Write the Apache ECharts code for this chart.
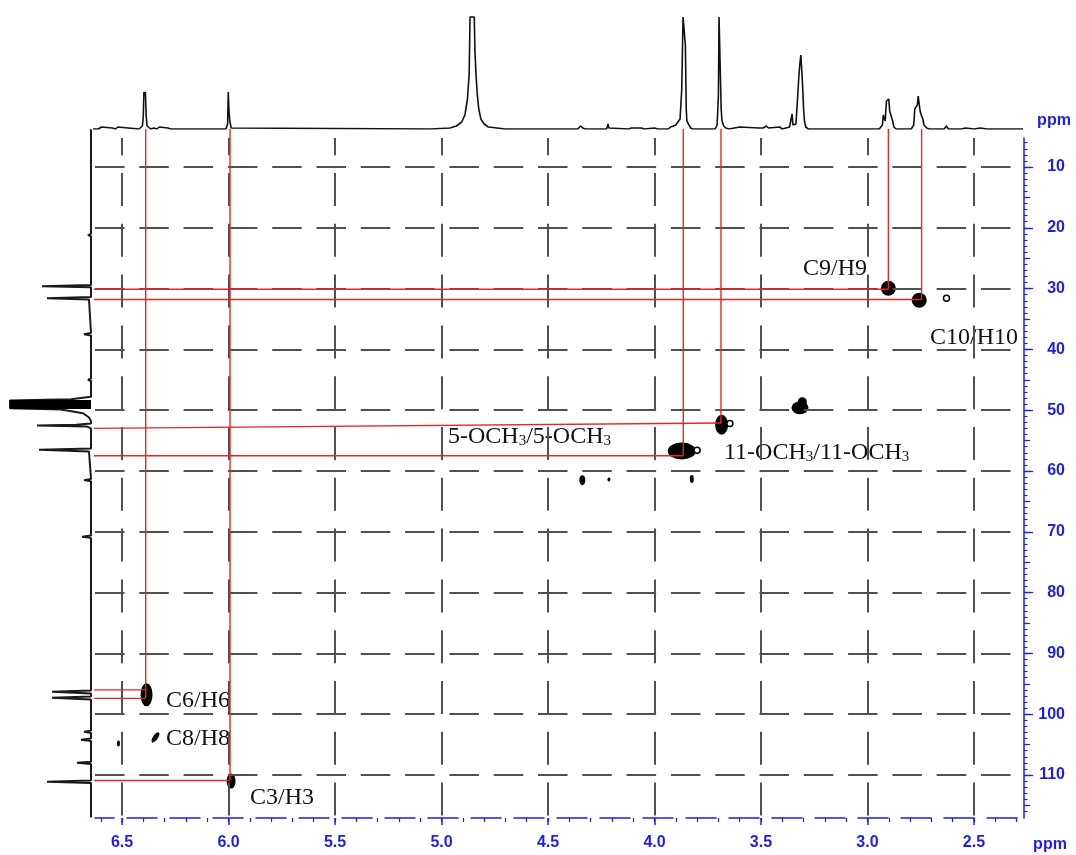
<!DOCTYPE html>
<html><head><meta charset="utf-8">
<script src="https://cdn.jsdelivr.net/npm/echarts@6/dist/echarts.min.js"></script>
<style>html,body{margin:0;padding:0;background:#fff}#c{width:1076px;height:855px}</style>
</head><body><div id="c"></div>
<script>
// ---------- tick labels ----------
const hTicks = [6.5, 6.0, 5.5, 5.0, 4.5, 4.0, 3.5, 3.0, 2.5];
const cTicks = [10, 20, 30, 40, 50, 60, 70, 80, 90, 100, 110];
const hMinorTicks = [];
for (let k = 66; k >= 23; k--) hMinorTicks.push(k / 10);
const cMidTicks = [];
for (let k = 5; k <= 115; k += 5) cMidTicks.push(k);
const cMinorTicks = [];
for (let k = 6; k <= 116; k++) cMinorTicks.push(k);

// ---------- 1H projection (ppm, intensity) ----------
const protonTrace = [
[6.636,0],[6.610,0],[6.597,2],[6.590,0],[6.545,1],[6.540,2],[6.530,0],[6.520,2],[6.514,0],[6.420,0],[6.404,3],[6.400,12],[6.397,37],[6.393,34],[6.390,37],[6.386,12],[6.382,3],[6.375,1],[6.365,0],[6.356,2],[6.350,1],[6.343,2],[6.336,0],[6.325,2],[6.318,0],[6.285,1],[6.270,0],
[6.012,0],[6.004,5],[6.001,37],[5.998,20],[5.994,8],[5.987,1],[5.978,0],
[5.050,0],[4.960,1],[4.930,3],[4.905,7],[4.890,14],[4.878,30],[4.870,55],[4.866,112],[4.846,112],[4.843,78],[4.838,55],[4.832,35],[4.825,20],[4.815,10],[4.800,5],[4.780,2],[4.740,1],[4.700,0],
[4.360,0],[4.347,3],[4.342,4],[4.337,1],[4.325,0],[4.225,0],[4.218,5],[4.214,1],[4.205,0],[4.120,0],[4.110,1],[4.060,1],[4.050,0],[4.000,1],[3.992,2],[3.985,0],
[3.935,0],[3.925,2],[3.912,3],[3.900,4],[3.890,7],[3.880,10],[3.872,40],[3.866,112],[3.858,112],[3.855,84],[3.851,20],[3.848,8],[3.838,4],[3.830,1],[3.820,0],
[3.715,0],[3.706,4],[3.700,33],[3.697,112],[3.690,112],[3.687,20],[3.683,8],[3.675,3],[3.665,1],[3.650,0],
[3.600,2],[3.592,0],[3.510,1],[3.503,2],[3.490,1],[3.475,3],[3.465,1],[3.412,2],[3.400,0],
[3.366,2],[3.358,4],[3.354,15],[3.350,4],[3.344,2],[3.336,5],[3.329,28],[3.323,50],[3.319,62],[3.313,74],[3.309,60],[3.305,45],[3.300,20],[3.296,8],[3.290,2],[3.278,0],
[3.015,0],[3.010,2],[3.000,0],
[2.945,0],[2.930,4],[2.926,14],[2.921,14],[2.917,8],[2.911,28],[2.905,30],[2.900,30],[2.896,18],[2.891,18],[2.887,18],[2.882,8],[2.876,2],[2.866,0],
[2.795,0],[2.783,4],[2.778,20],[2.774,22],[2.770,18],[2.766,24],[2.762,33],[2.757,33],[2.753,18],[2.748,14],[2.744,15],[2.740,10],[2.735,4],[2.722,1],[2.710,0],
[2.640,0],[2.630,3],[2.620,0],[2.560,0],[2.540,1],[2.500,0],[2.470,1],[2.440,0],[2.270,0]
];

// ---------- 13C projection (intensity, ppm) ----------
const carbonTrace = [
[0,3.8],[0,21.0],[3,21.2],[0,21.4],[0,29.4],[49,29.6],[0,29.8],[0,31.4],[44,31.6],[2,31.8],[0,32.0],[0,37.3],[7,37.5],[0,37.7],[0,44.8],[3,45.0],[0,45.2],
[0,47.8],[20,48.2],[81,48.4],[81,49.7],[30,49.9],[8,50.5],[2,51.2],[0,51.8],[0,52.2],[15,52.4],[54,52.5],[4,52.7],[0,53.0],[0,56.3],[52,56.5],[2,56.8],[0,57.0],
[0,61.3],[7,61.5],[0,61.7],[0,70.6],[9,70.8],[0,71.0],[0,96.1],[39,96.3],[0,96.6],[0,97.1],[39,97.3],[0,97.6],[0,102.7],[7,102.9],[0,103.1],[0,104.0],[10,104.2],[0,104.4],[0,107.8],[14,108.0],[0,108.2],[0,110.9],[44,111.1],[0,111.3],[0,117.0]
];
const carbonBand = [[0,49.05],[81,49.05]];

// ---------- HSQC cross peaks (1H ppm, 13C ppm) ----------
const crossPeaks = [
[2.902,29.95],[2.757,31.9],[3.317,49.6],[3.306,48.6],[3.685,52.4],[3.872,56.7],
[4.339,61.5],[3.825,61.3],[4.214,61.4],[6.385,96.8],[6.343,103.8],[6.517,104.8],[5.988,111.0]
];
const weakRings = [[2.629,31.6],[3.646,52.2],[3.800,56.6]];

// correlation guides: vertical [1H, 13C end]; horizontal [13C start, 13C end, 1H end]
const vCorr = [[6.389,97.3],[5.993,110.9],[3.865,57.4],[3.688,52.2],[2.902,30.0],[2.746,31.8]];
const hCorr = [[96.0,96.0,6.389],[97.4,97.4,6.389],[110.9,110.9,5.993],[57.5,57.5,3.865],[53.0,52.1,3.688],[30.1,30.1,2.902],[31.8,31.8,2.746]];

// ---------- styling / layout ----------
const peakSize = [[15,15],[15,15],[17,13],[9,9],[13,20],[28,17],[6,10],[4,8],[3,4],[12,23],[5,12],[3,6],[9,15]];
const peakRotate = [0,0,0,0,0,0,0,0,0,0,-35,0,0];
const BLUE = '#1e1ee6';
const RED = '#e8262a';
const GRIDC = '#505050';
const SANS = '"Liberation Sans", Arial, sans-serif';
const SERIF = '"Liberation Serif", "Times New Roman", serif';
const H_LO = 2.298, H_HI = 6.627, C_MIN = 5.23, C_MAX = 117.07;
const TOP_C = 3.75, LEFT_H = 6.650;
const mainGrid = {left:95, top:138, width:922, height:680, containLabel:false, outerBoundsMode:'none'};

const chart = echarts.init(document.getElementById('c'), null, {renderer:'canvas'});

const redSeries = [];
vCorr.forEach(([h, c]) => redSeries.push({
  type:'line', xAxisIndex:0, yAxisIndex:0, clip:false, silent:true, showSymbol:false, z:5,
  data:[[h, TOP_C],[h, c]], lineStyle:{color:RED, width:1.4}
}));
hCorr.forEach(([c0, c1, h]) => redSeries.push({
  type:'line', xAxisIndex:0, yAxisIndex:0, clip:false, silent:true, showSymbol:false, z:5,
  data:[[LEFT_H, c0],[h, c1]], lineStyle:{color:RED, width:1.4}
}));

const labelRich = {
  n:{fontFamily:SERIF, fontSize:24, lineHeight:28, verticalAlign:'bottom', fill:'#111'},
  s:{fontFamily:SERIF, fontSize:15, lineHeight:12, verticalAlign:'bottom', fill:'#111'}
};
const annotations = [
  ['{n|C9/H9}', 803, 275],
  ['{n|C10/H10}', 930, 344],
  ['{n|5-OCH}{s|3}{n|/5-OCH}{s|3}', 448, 443],
  ['{n|11-OCH}{s|3}{n|/11-OCH}{s|3}', 724, 459],
  ['{n|C6/H6}', 166, 707],
  ['{n|C8/H8}', 166, 745],
  ['{n|C3/H3}', 250, 804]
];

const vGridStyle = {color:GRIDC, width:2, type:[33,17.8], dashOffset:15.8};
const hGridStyle = {color:GRIDC, width:2, type:[29.5,14.8], dashOffset:37.8};

const option = {
  animation:false,
  backgroundColor:'#fff',
  grid:[
    mainGrid,
    {left:93, top:0, width:930, height:129, containLabel:false, outerBoundsMode:'none'},
    {left:0, top:128, width:91, height:690, containLabel:false, outerBoundsMode:'none'},
    Object.assign({}, mainGrid),
    Object.assign({}, mainGrid)
  ],
  xAxis:[
    {gridIndex:0, type:'value', min:H_LO, max:H_HI, inverse:true, position:'bottom',
     axisLine:{show:true, lineStyle:{color:BLUE, width:1.5, type:[30,13]}},
     axisTick:{show:true, customValues:hTicks, length:7, lineStyle:{color:BLUE, width:1.5}},
     axisLabel:{show:true, customValues:hTicks, formatter:v=>Number(v).toFixed(1), color:BLUE, fontWeight:'bold', fontSize:16, fontFamily:SANS, margin:17},
     splitLine:{show:false}, minorTick:{show:false}},
    {gridIndex:1, type:'value', min:2.270, max:6.636, inverse:true, show:false},
    {gridIndex:2, type:'value', min:0, max:91, inverse:true, show:false},
    {gridIndex:3, type:'value', min:H_LO, max:H_HI, inverse:true, position:'bottom',
     axisLine:{show:false}, axisTick:{show:true, customValues:hMinorTicks, length:4, lineStyle:{color:BLUE, width:1.2}},
     axisLabel:{show:false}, splitLine:{show:false}},
    {gridIndex:4, type:'value', min:H_LO, max:H_HI, inverse:true, show:false}
  ],
  yAxis:[
    {gridIndex:0, type:'value', min:C_MIN, max:C_MAX, inverse:true, position:'right', offset:7,
     axisLine:{show:true, lineStyle:{color:BLUE, width:1.5}},
     axisTick:{show:true, customValues:cTicks, length:9, lineStyle:{color:BLUE, width:1.3}},
     axisLabel:{show:true, customValues:cTicks, color:BLUE, fontWeight:'bold', fontSize:16, fontFamily:SANS, align:'right', margin:41},
     splitLine:{show:false}},
    {gridIndex:1, type:'value', min:0, max:129, show:false},
    {gridIndex:2, type:'value', min:3.59, max:C_MAX, inverse:true, show:false},
    {gridIndex:3, type:'value', min:C_MIN, max:C_MAX, inverse:true, position:'right', offset:7,
     axisLine:{show:false}, axisTick:{show:true, customValues:cMinorTicks, length:3.5, lineStyle:{color:BLUE, width:1.1}},
     axisLabel:{show:false}, splitLine:{show:false}},
    {gridIndex:4, type:'value', min:C_MIN, max:C_MAX, inverse:true, position:'right', offset:7,
     axisLine:{show:false}, axisTick:{show:true, customValues:cMidTicks, length:6, lineStyle:{color:BLUE, width:1.2}},
     axisLabel:{show:false}, splitLine:{show:false}}
  ],
  series:[
    {type:'line', xAxisIndex:0, yAxisIndex:0, data:[], silent:true, z:1,
     markLine:{silent:true, symbol:['none','none'], label:{show:false},
       lineStyle:{color:GRIDC, width:2},
       data:[...hTicks.map(v=>({xAxis:v, lineStyle:vGridStyle})), ...cTicks.map(v=>({yAxis:v, lineStyle:hGridStyle}))]}},
    {type:'line', xAxisIndex:1, yAxisIndex:1, data:protonTrace, showSymbol:false, silent:true, z:2,
     lineStyle:{color:'#111', width:1.6}},
    {type:'line', xAxisIndex:2, yAxisIndex:2, data:carbonTrace, showSymbol:false, silent:true, z:2,
     lineStyle:{color:'#1a1a1a', width:2}},
    {type:'line', xAxisIndex:2, yAxisIndex:2, data:carbonBand, showSymbol:false, silent:true, z:2,
     lineStyle:{color:'#000', width:9}},
    {type:'scatter', xAxisIndex:0, yAxisIndex:0, silent:true, z:3,
     data:crossPeaks.map((p,i)=>({value:p, symbolSize:peakSize[i], symbolRotate:peakRotate[i]})),
     symbol:'circle', itemStyle:{color:'#000', opacity:1}},
    {type:'scatter', xAxisIndex:0, yAxisIndex:0, silent:true, z:4, data:weakRings, symbol:'circle', symbolSize:6,
     itemStyle:{color:'#fff', borderColor:'#000', borderWidth:1.5, opacity:1}},
    ...redSeries
  ],
  graphic:[
    ...annotations.map(([t,x,y])=>({type:'text', x:x, y:y+6, silent:true,
      style:{text:t, rich:labelRich, align:'left', verticalAlign:'bottom', fill:'#111'}})),
    {type:'text', x:1054, y:121, style:{text:'ppm', font:'bold 16px '+SANS, fill:BLUE, align:'center', verticalAlign:'middle'}},
    {type:'text', x:1050, y:845, style:{text:'ppm', font:'bold 16px '+SANS, fill:BLUE, align:'center', verticalAlign:'middle'}}
  ]
};
chart.setOption(option);
</script></body></html>
